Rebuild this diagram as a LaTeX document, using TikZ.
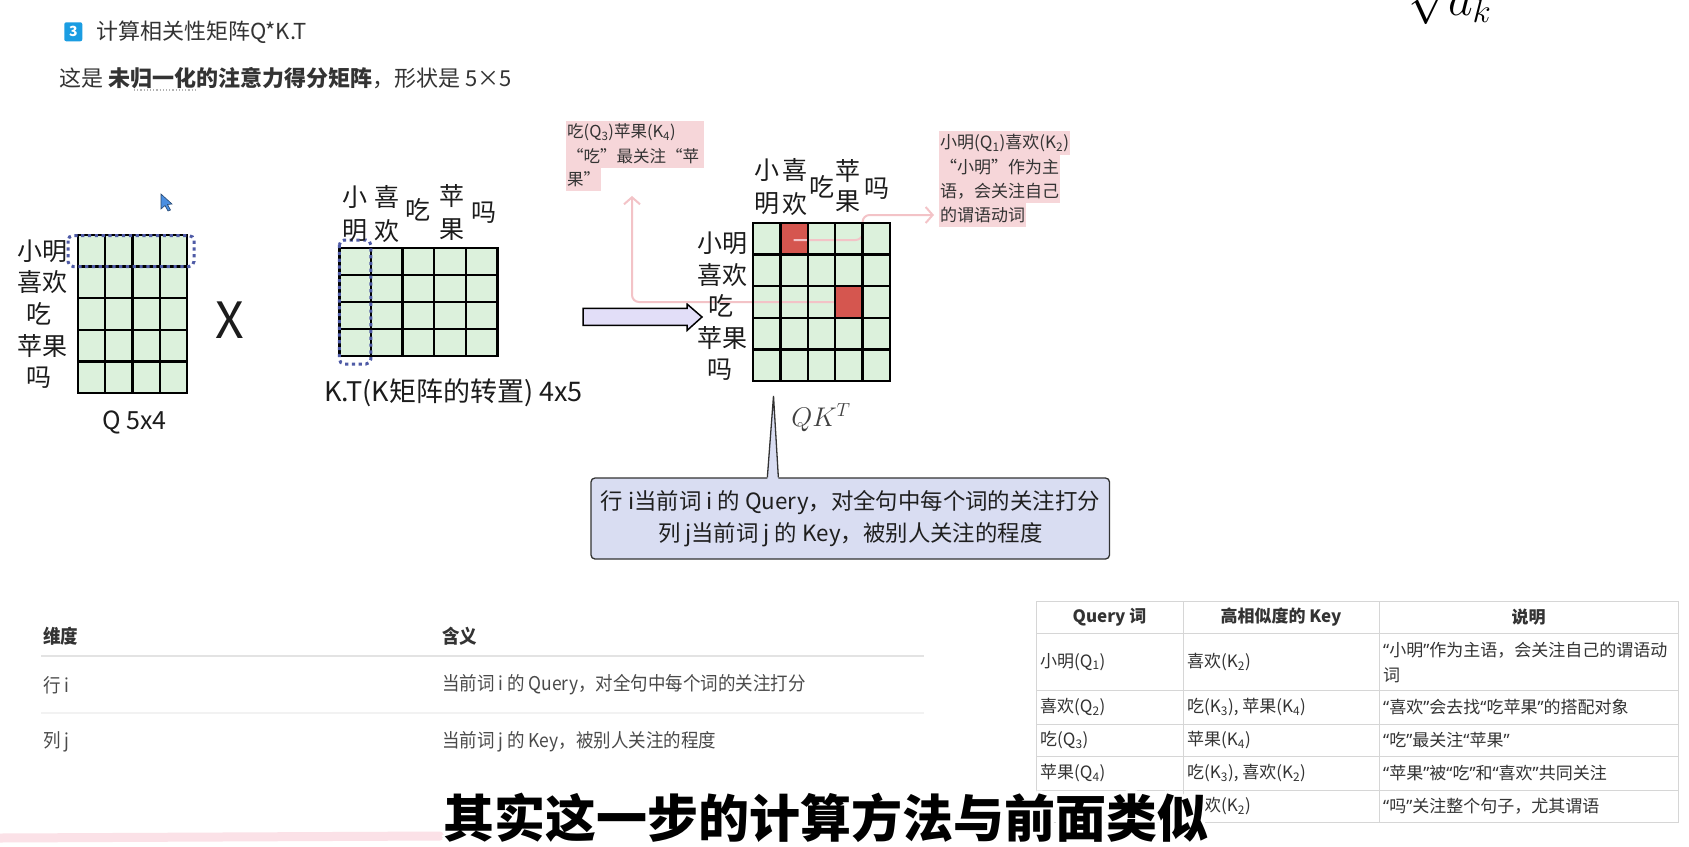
\RequirePackage{fix-cm}
\documentclass[tikz,border=0pt]{standalone}
\usepackage{fontspec}
\setmainfont{Noto Sans CJK SC}
\newfontfamily\qfont{Noto Sans}
\newfontfamily\condfont[FakeStretch=0.92]{Noto Sans CJK SC}
\newcommand\oq{{\qfont “}}
\newcommand\cq{{\qfont ”}}
\usetikzlibrary{calc,arrows.meta}
\definecolor{cellgreen}{HTML}{DCF1DC}
\definecolor{cellred}{HTML}{D5564F}
\definecolor{dotblue}{HTML}{4F5BA6}
\definecolor{notepink}{HTML}{F6D6D9}
\definecolor{notetxt}{HTML}{333333}
\definecolor{linkpink}{HTML}{F3C3C7}
\definecolor{callfill}{HTML}{D9DDF2}
\definecolor{calline}{HTML}{333333}
\definecolor{arrowfill}{HTML}{E2DEF8}
\definecolor{badgeblue}{HTML}{1B9DE2}
\definecolor{headtxt}{HTML}{333333}
\definecolor{labtxt}{HTML}{1C1C1C}
\definecolor{tblline}{HTML}{D6D6D6}
\definecolor{tbtxt}{HTML}{333333}
\definecolor{dltxt}{HTML}{4A4A4A}
\definecolor{smearpink}{HTML}{FBE1E7}
\definecolor{cursorblue}{HTML}{4A8EE0}
\begin{document}
\begin{tikzpicture}[x=1pt,y=-1pt,
  every node/.style={inner sep=0pt},
  lab/.style={font=\fontsize{25}{25}\selectfont, text=labtxt},
  gridline/.style={line width=2.4pt, black, line cap=rect},
  dotbox/.style={draw=dotblue, line width=3pt, dash pattern=on 3.2pt off 3.6pt, rounded corners=5pt},
  notel/.style={fill=notepink, font=\fontsize{16.5}{16.5}\selectfont, text=notetxt, anchor=west, minimum height=23.5pt, inner xsep=1pt, align=left},
  noter/.style={notel, font=\fontsize{17}{17}\selectfont, minimum height=24pt},
  link/.style={draw=linkpink, line width=2pt, rounded corners=7pt},
  linktip/.style={-{Straight Barb[length=7pt,width=16pt]}},
  tb/.style={font=\fontsize{17}{25}\selectfont, text=tbtxt, anchor=west, align=left},
  tbh/.style={font=\bfseries\fontsize{17}{25}\selectfont, text=tbtxt},
  dl/.style={font=\condfont\fontsize{19}{22}\selectfont, text=dltxt, anchor=west},
  dlh/.style={font=\condfont\bfseries\fontsize{19}{22}\selectfont, text=headtxt, anchor=west},
  subt/.style={font=\bfseries\fontsize{51}{51}\selectfont}
]
\clip (0,0) rectangle (1689,846);
\fill[white] (0,0) rectangle (1689,846);

% header
\node[fill=badgeblue, rounded corners=2pt, minimum width=18pt, minimum height=19pt, text=white, font=\bfseries\fontsize{14}{14}\selectfont] (badge) at (73.3,31.8) {3};
\node[anchor=west, font=\fontsize{22}{22}\selectfont, text=headtxt] (title) at (96,32) {计算相关性矩阵Q*K.T};
\node[anchor=west, font=\fontsize{22}{22}\selectfont, text=headtxt] (intro) at (59,78) {这是 {\bfseries 未归一化的注意力得分矩阵}，形状是 5×5};
\draw[gray!60, line width=1.2pt, dotted] (134,90) -- (197,90);
\node[anchor=base west, font=\fontsize{48}{48}\selectfont] (sqrtdk) at (1408,15) {$\sqrt{d_k}$};

% cursor
\filldraw[fill=cursorblue, draw=cursorblue!50!black, line width=0.6pt] (161,194) -- (161,209) -- (165,205.5) -- (168,211) -- (170.5,210) -- (167.5,204.5) -- (172,204) -- cycle;

% Q matrix
\fill[cellgreen] (78,235) rectangle (187,393);
\foreach \i in {0,...,4} \draw[gridline] ({78+\i*27.25},235) -- ({78+\i*27.25},393);
\foreach \j in {0,...,5} \draw[gridline] (78,{235+\j*31.6}) -- (187,{235+\j*31.6});
\draw[dotbox] (68,235.5) rectangle (194,266.5);
\node[lab] (qr1) at (42,250.8) {小明};
\node[lab] (qr2) at (42,282.4) {喜欢};
\node[lab] (qr3) at (39,314) {吃};
\node[lab] (qr4) at (42,345.6) {苹果};
\node[lab] (qr5) at (39,377.2) {吗};
\node[font=\fontsize{50}{50}\selectfont, text=labtxt] (times) at (230,320) {X};
\node[lab] (qcap) at (134.5,422.5) {Q 5x4};

% K.T matrix
\fill[cellgreen] (339.3,247.7) rectangle (497.3,356.1);
\foreach \i in {0,...,5} \draw[gridline] ({339.3+\i*31.6},247.7) -- ++(0,108.4);
\foreach \j in {0,...,4} \draw[gridline] (339.3,{247.7+\j*27.1}) -- ++(158,0);
\draw[dotbox] (339.3,240) rectangle (370.9,364);
\node[lab] (kc1a) at (355,197) {小};
\node[lab] (kc1b) at (355,231) {明};
\node[lab] (kc2a) at (387,197) {喜};
\node[lab] (kc2b) at (387,231) {欢};
\node[lab] (kc3) at (418,210) {吃};
\node[lab] (kc4a) at (452,196) {苹};
\node[lab] (kc4b) at (452,230) {果};
\node[lab] (kc5) at (484,213) {吗};
\node[lab, font=\fontsize{27}{27}\selectfont] (kcap) at (453.5,393) {K.T(K矩阵的转置) 4x5};

% big arrow
\filldraw[fill=arrowfill, draw=black, line width=1.5pt, line join=miter] (583,308.3) -- (687,308.3) -- (687,304) -- (702,317) -- (687,330.5) -- (687,325.3) -- (583,325.3) -- cycle;

% QK^T matrix
\fill[cellgreen] (753,223) rectangle (890,381);
\fill[cellred] (780.4,223) rectangle (807.8,254.6);
\fill[cellred] (835.2,286.2) rectangle (862.6,317.8);

% notes
\node[notel, text width=136pt] (n1a) at (566,132.5) {吃(Q\textsubscript{3})苹果(K\textsubscript{4})};
\node[notel, text width=136pt] (n1b) at (566,156) {“吃”最关注“苹};
\node[notel] (n1c) at (566,179.5) {果”};
\node[noter] (n2a) at (939,143) {小明(Q\textsubscript{1})喜欢(K\textsubscript{2})};
\node[noter] (n2b) at (939,167) {“小明”作为主};
\node[noter] (n2c) at (939,191) {语，会关注自己};
\node[noter] (n2d) at (939,215) {的谓语动词};

% links
\coordinate (redA) at (793.5,240);
\coordinate (ca) at (862.6,240);
\draw[link, linktip] (redA) -- (ca) -- (ca |- n2d.west) -- ([xshift=-5pt]n2d.west);
\coordinate (redB) at (835,302);
\coordinate (cb) at (632,302);
\coordinate (n1tip) at ($(n1b.south west)+(66,28)$);
\draw[link, linktip] (redB) -- (cb) -- (cb |- n1tip);

\foreach \i in {0,...,5} \draw[gridline] ({753+\i*27.4},223) -- ({753+\i*27.4},381);
\foreach \j in {0,...,5} \draw[gridline] (753,{223+\j*31.6}) -- (890,{223+\j*31.6});
\node[lab] (rr1) at (722,243) {小明};
\node[lab] (rr2) at (722,274.6) {喜欢};
\node[lab] (rr3) at (720.5,306.2) {吃};
\node[lab] (rr4) at (722,337.8) {苹果};
\node[lab] (rr5) at (719.5,369.4) {吗};
\node[lab] (cc1a) at (767,170) {小};
\node[lab] (cc1b) at (767,204) {明};
\node[lab] (cc2a) at (795,170) {喜};
\node[lab] (cc2b) at (795,204) {欢};
\node[lab] (cc3) at (822,187) {吃};
\node[lab] (cc4a) at (848,171) {苹};
\node[lab] (cc4b) at (848,202) {果};
\node[lab] (cc5) at (877,189) {吗};
\node[font=\fontsize{27}{27}\selectfont, text=black!75] (qkt) at (821,418) {$QK^T$};

% callout
\coordinate (tip) at (773.5,396);
\node[draw=calline, fill=callfill, line width=1.3pt, rounded corners=4pt, minimum width=518.5pt, minimum height=81pt, align=center, font=\fontsize{22.4}{32}\selectfont, text=black!88] (callout) at (850.25,518.5) {行 i当前词 i 的 Query，对全句中每个词的关注打分\\列 j当前词 j 的 Key，被别人关注的程度};
\fill[callfill] ($(callout.north west)+(177,2)$) -- (tip) -- ($(callout.north west)+(188,2)$) -- cycle;
\draw[calline, line width=1.3pt, line join=miter] ($(callout.north west)+(177,0)$) -- (tip) -- ($(callout.north west)+(188,0)$);

% bottom-left table
\node[dlh] (dh1) at (43,636) {维度};
\node[dlh] (dh2) at (442,636) {含义};
\draw[black!11, line width=2.5pt] (41,656) -- (924,656);
\node[dl] (d11) at (43,685) {行 i};
\node[dl] (d12) at (442,685) {当前词 i 的 Query，对全句中每个词的关注打分};
\draw[black!5, line width=1.5pt] (41,713) -- (924,713);
\node[dl] (d21) at (43,742) {列 j};
\node[dl] (d22) at (442,742) {当前词 j 的 Key，被别人关注的程度};

% right table
\draw[tblline, line width=1pt] (1036,601) rectangle (1678,822);
\foreach \xx in {1183,1379} \draw[tblline, line width=1pt] (\xx,601) -- (\xx,822);
\foreach \yy in {633,690.5,724,756.5,790} \draw[tblline, line width=1pt] (1036,\yy) -- (1678,\yy);
\node[tbh] (th1) at (1109.5,617) {Query 词};
\node[tbh] (th2) at (1281,617) {高相似度的 Key};
\node[tbh] (th3) at (1528.5,617) {说明};
\node[tb] (t11) at (1040,662) {小明(Q\textsubscript{1})};
\node[tb] (t12) at (1187,662) {喜欢(K\textsubscript{2})};
\node[tb] (t13) at (1383,662) {\oq 小明\cq 作为主语，会关注自己的谓语动\\词};
\node[tb] (t21) at (1040,707.5) {喜欢(Q\textsubscript{2})};
\node[tb] (t22) at (1187,707.5) {吃(K\textsubscript{3}), 苹果(K\textsubscript{4})};
\node[tb] (t23) at (1383,707.5) {\oq 喜欢\cq 会去找\oq 吃苹果\cq 的搭配对象};
\node[tb] (t31) at (1040,740.5) {吃(Q\textsubscript{3})};
\node[tb] (t32) at (1187,740.5) {苹果(K\textsubscript{4})};
\node[tb] (t33) at (1383,740.5) {\oq 吃\cq 最关注\oq 苹果\cq};
\node[tb] (t41) at (1040,773.5) {苹果(Q\textsubscript{4})};
\node[tb] (t42) at (1187,773.5) {吃(K\textsubscript{3}), 喜欢(K\textsubscript{2})};
\node[tb] (t43) at (1383,773.5) {\oq 苹果\cq 被\oq 吃\cq 和\oq 喜欢\cq 共同关注};
\node[tb] (t52) at (1187,806) {\phantom{喜}欢(K\textsubscript{2})};
\node[tb] (t53) at (1383,806) {\oq 吗\cq 关注整个句子，尤其谓语};

% subtitle
\draw[smearpink, line width=9pt, line cap=round] (0,838) -- (440,836);
\foreach \a in {0,30,...,330} \node[subt, text=white] (halo\a) at ($(826,818)+(\a:3.2)$) {其实这一步的计算方法与前面类似};
\node[subt, text=black] (subtitle) at (826,818) {其实这一步的计算方法与前面类似};
\end{tikzpicture}
\end{document}
